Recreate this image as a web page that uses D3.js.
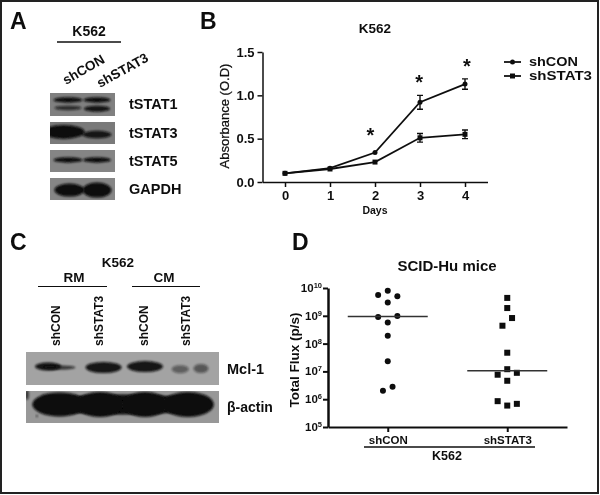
<!doctype html>
<html>
<head>
<meta charset="utf-8">
<script src="https://cdnjs.cloudflare.com/ajax/libs/d3/7.8.5/d3.min.js"></script>
<style>
    html, body { margin: 0; padding: 0; background: #fff; }
    text { font-family: "Liberation Sans", Arial, sans-serif; font-weight: bold; fill: #111; }
    .axis path, .axis line { stroke: #111; }
</style>
</head>
<body>
<svg id="fig" width="600" height="495"></svg>
<script>
// panel B values
var days = [0, 1, 2, 3, 4];
var shConOD = [0.10, 0.16, 0.34, 0.92, 1.13];
var shConErr = [0.01, 0.01, 0.01, 0.08, 0.06];
var shStat3OD = [0.10, 0.15, 0.23, 0.51, 0.55];
var shStat3Err = [0.01, 0.01, 0.01, 0.05, 0.05];
var starDays = [1.9, 2.98, 4.04];
var starOD = [0.57, 1.18, 1.36];
var odTicks = [0, 0.5, 1, 1.5];

// panel D values
var groups = ["shCON", "shSTAT3"];
var conFlux = [7.9e9, 5.6e9, 5.1e9, 3.0e9, 9.1e8, 9.8e8, 5.8e8, 1.9e8, 2.3e7, 2.8e6, 2.0e6];
var conSlot = [0, -2, 2, 0, -2, 2, 0, 0, 0, 1, -1];
var stat3Flux = [4.4e9, 1.9e9, 8.3e8, 4.4e8, 4.7e7, 1.2e7, 7.6e6, 8.9e6, 4.6e6, 8.5e5, 5.9e5, 6.8e5];
var stat3Slot = [0, 0, 1, -1, 0, 0, -2, 2, 0, -2, 0, 2];
var medianFlux = [9.5e8, 1.05e7];
var fluxExp = [5, 6, 7, 8, 9, 10];

// western blots, each band: lane, height in blot, width, thickness, darkness
var stat1Bands = [[0, .30, 29, 5.5, 1], [0, .65, 27, 4.5, .75], [1, .30, 27, 5.5, 1], [1, .68, 26, 6, .95]];
var stat3Bands = [[-0.15, .45, 42, 14, 1], [1, .57, 29, 7.5, .95]];
var stat5Bands = [[0, .45, 29, 5.5, 1], [1, .45, 28, 5.5, 1]];
var gapdhBands = [[0.05, .55, 30, 13, 1], [1, .55, 29, 15, 1]];
var mclBands = [[-0.15, .44, 26, 8, .95], [0.1, .47, 32, 4, .75], [1.08, .47, 36, 11, .95], [2, .44, 36, 11, .95], [2.78, .52, 17, 8, .45], [3.24, .5, 15, 9, .5]];
var actinBands = [[1.5, .42, 176, 20, 1], [0.1, .42, 54, 24, 1], [1, .42, 48, 25, 1], [2, .42, 46, 25, 1], [2.95, .42, 52, 25, 1], [-0.4, .78, 2, 2, .8], [-0.62, .12, 4, 10, .7]];

var svg = d3.select("#fig");
var defs = svg.append("defs");
defs.append("filter").attr("id", "soft").append("feGaussianBlur").attr("stdDeviation", 0.35);
defs.append("filter").attr("id", "bandBlur")
    .attr("x", "-30%").attr("y", "-60%").attr("width", "160%").attr("height", "220%")
    .append("feGaussianBlur").attr("stdDeviation", 1.3);

var root = svg.append("g").attr("filter", "url(#soft)");

root.append("rect")
    .attr("x", 1).attr("y", 1).attr("width", 597).attr("height", 492)
    .attr("fill", "#fff").attr("stroke", "#222").attr("stroke-width", 2);

function label(txt, x, y, size, anchor, rotate) {
    var t = root.append("text")
        .attr("font-size", size)
        .attr("text-anchor", anchor || "start")
        .text(txt);
    if (rotate) t.attr("transform", "translate(" + x + "," + y + ") rotate(" + rotate + ")");
    else t.attr("x", x).attr("y", y);
    return t;
}

function rule(x1, x2, y, w) {
    root.append("line")
        .attr("x1", x1).attr("x2", x2).attr("y1", y).attr("y2", y)
        .attr("stroke", "#111").attr("stroke-width", w);
}

var clipCount = 0;
function blot(x, y, w, h, bg, laneX, bands) {
    var id = "blot" + (clipCount++);
    defs.append("clipPath").attr("id", id)
        .append("rect").attr("x", x).attr("y", y).attr("width", w).attr("height", h);
    var g = root.append("g").attr("clip-path", "url(#" + id + ")");
    g.append("rect").attr("x", x).attr("y", y).attr("width", w).attr("height", h).attr("fill", bg);
    var posY = d3.scaleLinear().domain([0, 1]).range([y, y + h]);
    var step = laneX(1) - laneX(0);
    g.selectAll("ellipse").data(bands).enter().append("ellipse")
        .attr("cx", function(d) { return laneX(0) + d[0] * step; })
        .attr("cy", function(d) { return posY(d[1]); })
        .attr("rx", function(d) { return d[2] / 2; })
        .attr("ry", function(d) { return d[3] / 2; })
        .attr("fill", "#0c0c0c")
        .attr("opacity", function(d) { return d[4]; })
        .attr("filter", "url(#bandBlur)");
}

// panel A
label("A", 10, 29, 23);
label("K562", 89, 36, 14, "middle");
rule(57, 121, 42, 1.5);
label("shCON", 66, 85, 13.5, "start", -30);
label("shSTAT3", 100, 88, 13.5, "start", -29);

var laneA = d3.scalePoint().domain([0, 1]).range([50, 115]).padding(0.62);
blot(50, 93, 65, 23, "#808080", laneA, stat1Bands);
blot(50, 122, 65, 22, "#7a7a7a", laneA, stat3Bands);
blot(50, 150, 65, 22, "#858585", laneA, stat5Bands);
blot(50, 178, 65, 22, "#868686", laneA, gapdhBands);
label("tSTAT1", 129, 109, 14.5);
label("tSTAT3", 129, 138, 14.5);
label("tSTAT5", 129, 166, 14.5);
label("GAPDH", 129, 194, 14.5);

// panel B
label("B", 200, 29, 23);
label("K562", 375, 33, 13.5, "middle");

var xDay = d3.scaleLinear().domain([-0.5, 4.5]).range([262.5, 487.5]);
var yOD = d3.scaleLinear().domain([0, 1.5]).range([182, 52]);

var axB = root.append("g").attr("class", "axis");
axB.append("g").attr("transform", "translate(0,182)")
    .call(d3.axisBottom(xDay).tickValues(days).tickFormat(d3.format("d")).tickSize(5).tickSizeOuter(0))
    .call(function(g) { g.selectAll("text").attr("font-size", 13).attr("dy", "0.75em").attr("fill", "#111"); });
axB.append("g").attr("transform", "translate(262.5,0)")
    .call(d3.axisLeft(yOD).tickValues(odTicks).tickFormat(d3.format(".1f")).tickSize(5).tickSizeOuter(0))
    .call(function(g) { g.selectAll("text").attr("font-size", 13).attr("fill", "#111"); });
axB.selectAll("path, line").attr("stroke-width", 1.5);

label("Days", 375, 214, 10.5, "middle");
label("Absorbance (O.D)", 229, 116, 13, "middle", -90)
    .style("font-weight", "normal")
    .attr("stroke", "#111").attr("stroke-width", 0.25);

var odLine = d3.line()
    .x(function(d, i) { return xDay(days[i]); })
    .y(function(d) { return yOD(d); });

function odSeries(values, errs, square) {
    root.append("path").attr("d", odLine(values))
        .attr("fill", "none").attr("stroke", "#111").attr("stroke-width", 1.8);
    var g = root.append("g").selectAll("g").data(values).enter().append("g")
        .attr("transform", function(d, i) { return "translate(" + xDay(days[i]) + "," + yOD(d) + ")"; });
    g.append("path")
        .attr("d", function(d, i) {
            var e = Math.abs(yOD(0) - yOD(errs[i]));
            if (e < 2) return "";
            return "M-3," + (-e) + "H3M0," + (-e) + "V" + e + "M-3," + e + "H3";
        })
        .attr("fill", "none").attr("stroke", "#111").attr("stroke-width", 1.4);
    if (square) {
        g.append("rect").attr("x", -2.5).attr("y", -2.5).attr("width", 5).attr("height", 5).attr("fill", "#111");
    } else {
        g.append("circle").attr("r", 2.5).attr("fill", "#111");
    }
}
odSeries(shConOD, shConErr, false);
odSeries(shStat3OD, shStat3Err, true);

root.append("g").selectAll("text").data(starDays).enter().append("text")
    .attr("x", function(d) { return xDay(d); })
    .attr("y", function(d, i) { return yOD(starOD[i]) + 9; })
    .attr("text-anchor", "middle")
    .attr("font-size", 20)
    .text("*");

// legend of panel B, the source type is wide and low so stretch it a bit
rule(504, 521, 62, 1.8);
root.append("circle").attr("cx", 512.5).attr("cy", 62).attr("r", 2.5).attr("fill", "#111");
label("shCON", 529, 66, 12).attr("textLength", 49).attr("lengthAdjust", "spacingAndGlyphs");
rule(504, 521, 76, 1.8);
root.append("rect").attr("x", 510).attr("y", 73.5).attr("width", 5).attr("height", 5).attr("fill", "#111");
label("shSTAT3", 529, 80, 12).attr("textLength", 63).attr("lengthAdjust", "spacingAndGlyphs");

// panel C
label("C", 10, 250, 23);
label("K562", 118, 267, 13.5, "middle");
label("RM", 74, 282, 13.5, "middle");
label("CM", 164, 282, 13.5, "middle");
rule(38, 107, 286.5, 1);
rule(132, 200, 286.5, 1);
label("shCON", 59.5, 346, 12, "start", -90);
label("shSTAT3", 102.5, 346, 12, "start", -90);
label("shCON", 147.5, 346, 12, "start", -90);
label("shSTAT3", 189.5, 346, 12, "start", -90);

var laneC = d3.scalePoint().domain([0, 1, 2, 3]).range([26, 219]).padding(0.64);
blot(26, 352, 193, 33, "#a3a3a3", laneC, mclBands);
blot(26, 391, 193, 32, "#989898", laneC, actinBands);
label("Mcl-1", 227, 374, 14.5);
label("β-actin", 227, 412, 14);

// panel D
label("D", 292, 250, 23);
label("SCID-Hu mice", 447, 271, 15, "middle");

var xGroup = d3.scalePoint().domain(groups).range([328, 567]).padding(0.5);
var yFlux = d3.scaleLog().domain([1e5, 1e10]).range([427, 288]);
var slotX = d3.scaleLinear().domain([-1, 1]).range([-4.8, 4.8]);

var axD = root.append("g").attr("class", "axis");
axD.append("g").attr("transform", "translate(0,427)")
    .call(d3.axisBottom(xGroup).tickSize(5).tickSizeOuter(0))
    .call(function(g) {
        g.selectAll("path, line").attr("stroke-width", 2);
        g.selectAll("text").attr("font-size", 11.5).attr("dy", "0.8em").attr("fill", "#111");
    });
axD.append("g").attr("transform", "translate(328,0)")
    .call(d3.axisLeft(yFlux).tickValues(fluxExp.map(function(e) { return Math.pow(10, e); })).tickFormat("").tickSize(5).tickSizeOuter(0))
    .call(function(g) {
        g.selectAll("path").attr("stroke-width", 2.5);
        g.selectAll("line").attr("stroke-width", 2);
    });

// ticks with superscript exponents
fluxExp.forEach(function(e) {
    var t = root.append("text")
        .attr("x", 322).attr("y", yFlux(Math.pow(10, e)) + 4)
        .attr("text-anchor", "end").attr("font-size", 11.5);
    t.append("tspan").text("10");
    t.append("tspan").attr("font-size", 7.5).attr("dy", -4).text(e);
});

label("Total Flux (p/s)", 299, 360, 13.5, "middle", -90);

root.append("g").selectAll("circle").data(conFlux).enter().append("circle")
    .attr("cx", function(d, i) { return xGroup("shCON") + slotX(conSlot[i]); })
    .attr("cy", function(d) { return yFlux(d); })
    .attr("r", 3).attr("fill", "#0c0c0c");

root.append("g").selectAll("rect").data(stat3Flux).enter().append("rect")
    .attr("x", function(d, i) { return xGroup("shSTAT3") + slotX(stat3Slot[i]) - 3; })
    .attr("y", function(d) { return yFlux(d) - 3; })
    .attr("width", 6).attr("height", 6).attr("fill", "#0c0c0c");

root.append("g").selectAll("line").data(medianFlux).enter().append("line")
    .attr("x1", function(d, i) { return xGroup(groups[i]) - 40; })
    .attr("x2", function(d, i) { return xGroup(groups[i]) + 40; })
    .attr("y1", function(d) { return yFlux(d); })
    .attr("y2", function(d) { return yFlux(d); })
    .attr("stroke", "#333").attr("stroke-width", 1.5);

rule(364, 535, 447, 1.5);
label("K562", 447, 460, 12.5, "middle");
</script>
</body>
</html>
